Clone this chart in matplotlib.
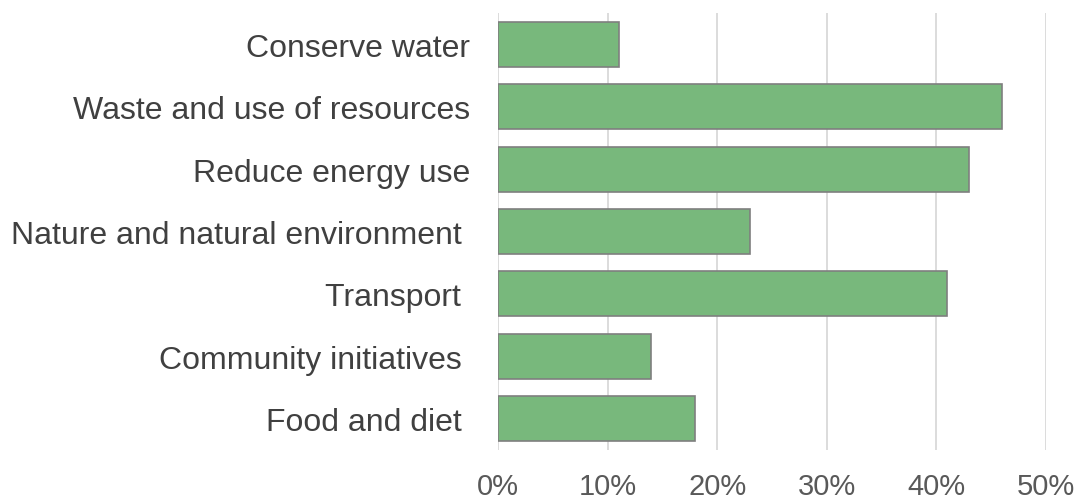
import matplotlib
matplotlib.use("Agg")
import matplotlib.pyplot as plt
from matplotlib.ticker import PercentFormatter

# 카테고리 및 값 (위에서 아래 순서)
categories = ["Conserve water",
              "Waste and use of resources",
              "Reduce energy use",
              "Nature and natural environment ",
              "Transport ",
              "Community initiatives ",
              "Food and diet "]
shares = [0.11, 0.46, 0.43, 0.23, 0.41, 0.14, 0.18]
x_ticks = [0.0, 0.1, 0.2, 0.3, 0.4, 0.5]

plt.rcParams["font.family"] = ["Liberation Sans", "DejaVu Sans"]

fig = plt.figure(figsize=(10.8, 5.02), dpi=100)
ax = fig.add_axes([0.4611, 0.1016, 0.5074, 0.8705])

y_pos = list(range(len(categories)))
ax.barh(y_pos, shares, height=0.72, color="#78B87C",
        edgecolor="#7F7F7F", linewidth=1.2, zorder=3)

ax.set_ylim(len(categories) - 0.5, -0.5)
ax.set_yticks(y_pos)
ax.set_yticklabels(categories)

ax.set_xlim(0, 0.5)
ax.set_xticks(x_ticks)
ax.xaxis.set_major_formatter(PercentFormatter(xmax=1, decimals=0))

ax.grid(axis="x", color="#D9D9D9", linewidth=1.3, zorder=0)
for spine in ax.spines.values():
    spine.set_visible(False)

ax.tick_params(axis="y", length=0, pad=20, labelsize=23, labelcolor="#404040")
ax.tick_params(axis="x", length=0, pad=15.5, labelsize=21, labelcolor="#595959")

fig.savefig("out.png", dpi=100)
